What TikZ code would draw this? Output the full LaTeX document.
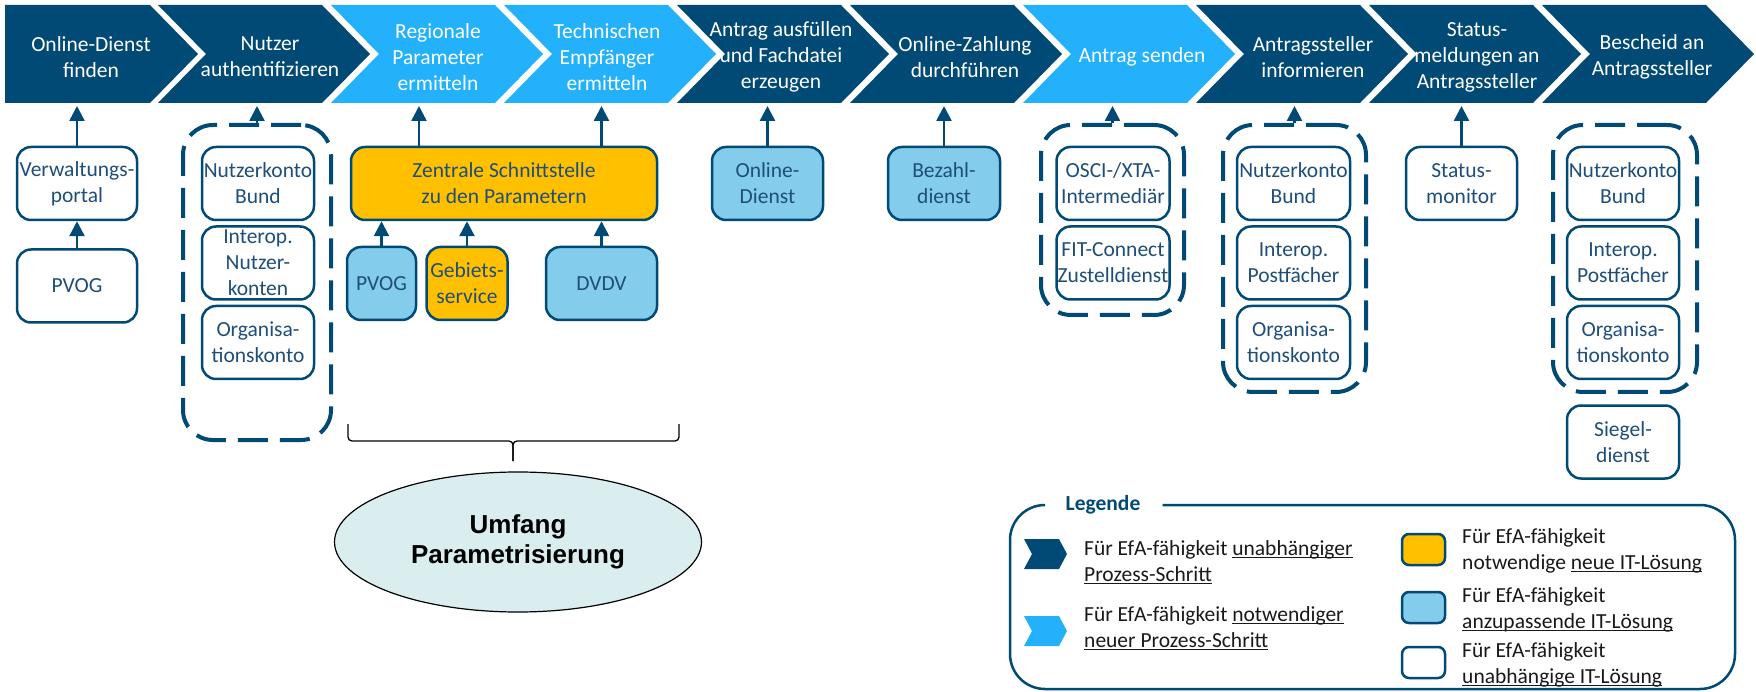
\documentclass[tikz,border=0pt]{standalone}
\usepackage{fontspec}
\setmainfont{Carlito}
\newfontfamily\arialfont{Liberation Sans}
\usepackage{xcolor}
\usepackage{tikz}
\usetikzlibrary{positioning,arrows.meta,shapes.geometric}
\definecolor{dblue}{HTML}{004A75}
\definecolor{hblue}{HTML}{23B1FC}
\definecolor{tblue}{HTML}{1F4E79}
\definecolor{gelb}{HTML}{FFC000}
\definecolor{lblue}{HTML}{83CCEB}
\definecolor{oval}{HTML}{DAEEF0}
\newcommand{\boxfont}{\fontsize{21.5}{26}\selectfont}
\newcommand{\unter}[1]{\underline{\smash{#1}}}
\newcommand{\prozess}[2]{\fill[#2] (#1,5) -- ++(164,0) -- ++(48,49) -- ++(-48,49) -- ++(-164,0) -- ++(48,-49) -- cycle;}
\pgfkeys{tikz/mybox/.style={draw=dblue,line width=2.5pt,rounded corners=14pt,fill=white,text=tblue,font=\boxfont,align=center,inner sep=0pt,minimum width=112pt,minimum height=73pt}}
\pgfkeys{tikz/mygroup/.style={draw=dblue,line width=4pt,rounded corners=30pt,dash pattern=on 30pt off 12pt}}
\pgfkeys{tikz/myarrow/.style={draw=dblue,line width=2.5pt,-{Triangle[width=15pt,length=15pt]}}}
\pgfkeys{tikz/mystep/.style={text=white,font=\boxfont,align=center,inner sep=0pt}}
\pgfkeys{tikz/mylegend/.style={font=\boxfont,align=left,anchor=west,inner sep=0pt,text=black!90}}

\begin{document}
\begin{tikzpicture}[x=1pt,y=-1pt,node distance=4pt]
\useasboundingbox (0,0) rectangle (1756,692);
% Prozesskette
\fill[dblue] (5,5) -- (150,5) -- (198,54) -- (150,103) -- (5,103) -- cycle;
\prozess{158}{dblue}
\prozess{331}{hblue}
\prozess{504}{hblue}
\prozess{677}{dblue}
\prozess{850}{dblue}
\prozess{1023}{hblue}
\prozess{1196}{dblue}
\prozess{1369}{dblue}
\prozess{1542}{dblue}
\coordinate (bar) at (0,106);
\node[mystep] (p1) at (91,57) {Online-Dienst\\finden};
\node[mystep] (p2) at (270,57) {Nutzer\\authentifizieren};
\node[mystep] (p3) at (438,57) {Regionale\\Parameter\\ermitteln};
\node[mystep] (p4) at (607,57) {Technischen\\Empfänger\\ermitteln};
\node[mystep] (p5) at (781,57) {Antrag ausfüllen\\und Fachdatei\\erzeugen};
\node[mystep] (p6) at (965,57) {Online-Zahlung\\durchführen};
\node[mystep] (p7) at (1142,57) {Antrag senden};
\node[mystep] (p8) at (1313,57) {Antragssteller\\informieren};
\node[mystep] (p9) at (1477,57) {Status-\\meldungen an\\Antragssteller};
\node[mystep] (p10) at (1652,57) {Bescheid an\\Antragssteller};

% IT-Loesungen
\node[mybox,minimum width=120pt] (vp) at (77,183.5) {Verwaltungs-\\portal};
\node[mybox,minimum width=120pt,below=27pt of vp] (pvog1) {PVOG};

\node[mygroup,minimum width=148pt,minimum height=315pt] (g1) at (257,282.5) {};
\node[mybox] (nk1) at (258,183.5) {Nutzerkonto\\Bund};
\node[mybox,below=of nk1] (io1) {Interop.\\Nutzer-\\konten};
\node[mybox,below=of io1] (org1) {Organisa-\\tionskonto};

\node[mybox,fill=gelb,minimum width=306pt] (zs) at (504,183.5) {Zentrale Schnittstelle\\zu den Parametern};
\node[mybox,fill=lblue,minimum width=69pt] (pvog2) at (381.5,283.5) {PVOG};
\node[mybox,fill=gelb,minimum width=81pt,right=8pt of pvog2] (gs) {Gebiets-\\service};
\node[mybox,fill=lblue,minimum width=111pt] (dvdv) at (601.5,283.5) {DVDV};

\node[mybox,fill=lblue,minimum width=111pt] (od) at (767.5,183.5) {Online-\\Dienst};
\node[mybox,fill=lblue] (bz) at (944,183.5) {Bezahl-\\dienst};

\node[mygroup,minimum width=143pt,minimum height=190pt] (g2) at (1112.5,220) {};
\node[mybox,minimum width=113pt] (osci) at (1113,183.5) {OSCI-/XTA-\\Intermediär};
\node[mybox,minimum width=113pt,below=of osci] (fit) {FIT-Connect\\Zustelldienst};

\node[mygroup,minimum width=143pt,minimum height=267pt] (g3) at (1294.5,258.5) {};
\node[mybox,minimum width=113pt] (nk2) at (1293.5,183.5) {Nutzerkonto\\Bund};
\node[mybox,minimum width=113pt,below=of nk2] (pf1) {Interop.\\Postfächer};
\node[mybox,minimum width=113pt,below=of pf1] (org2) {Organisa-\\tionskonto};

\node[mybox,minimum width=111pt] (sm) at (1461.5,183.5) {Status-\\monitor};

\node[mygroup,minimum width=144pt,minimum height=267pt] (g4) at (1625,258.5) {};
\node[mybox] (nk3) at (1623,183.5) {Nutzerkonto\\Bund};
\node[mybox,below=of nk3] (pf2) {Interop.\\Postfächer};
\node[mybox,below=of pf2] (org3) {Organisa-\\tionskonto};
\node[mybox,below=24pt of org3] (sd) {Siegel-\\dienst};

\draw[myarrow] (vp) -- (vp |- bar);
\draw[myarrow] (pvog1) -- (vp);
\draw[myarrow] (g1) -- (g1 |- bar);
\draw[myarrow] ([xshift=-85pt]zs.north) -- ([xshift=-85pt]zs.north |- bar);
\draw[myarrow] (dvdv |- zs.north) -- (dvdv |- bar);
\draw[myarrow] (pvog2) -- (pvog2 |- zs.south);
\draw[myarrow] (gs) -- (gs |- zs.south);
\draw[myarrow] (dvdv) -- (dvdv |- zs.south);
\draw[myarrow] (od) -- (od |- bar);
\draw[myarrow] (bz) -- (bz |- bar);
\draw[myarrow] (g2) -- (g2 |- bar);
\draw[myarrow] (g3) -- (g3 |- bar);
\draw[myarrow] (sm) -- (sm |- bar);

% Klammer und Umfang
\draw[line width=1.3pt,rounded corners=4pt] (348,424) -- (348,441) -- (513,441) -- (513,461);
\draw[line width=1.3pt,rounded corners=4pt] (679,424) -- (679,441) -- (513,441) -- (513,461);
\node[ellipse,draw=black,line width=1.2pt,fill=oval,minimum width=367pt,minimum height=140pt,inner sep=0pt,align=center,font=\arialfont\bfseries\fontsize{26}{30}\selectfont] (umf) at (518,542) {Umfang\\Parametrisierung};

% Legende
\node[font=\boxfont\bfseries,text=dblue,inner xsep=22pt,inner ysep=0pt] (leg) at (1103,505) {Legende};
\draw[dblue,line width=2.5pt,rounded corners=35pt] (leg.west) -- (1010,505) -- (1010,689) -- (1735,689) -- (1735,505) -- (leg.east);
\fill[dblue] (1024,539) -- (1059,539) -- (1067,554) -- (1059,569) -- (1024,569) -- (1032,554) -- cycle;
\fill[hblue] (1024,616) -- (1059,616) -- (1067,631) -- (1059,646) -- (1024,646) -- (1032,631) -- cycle;
\node[mybox,fill=gelb,minimum width=43pt,minimum height=31pt,rounded corners=7pt] (l1) at (1423.5,549.5) {};
\node[mybox,fill=lblue,minimum width=43pt,minimum height=31pt,rounded corners=7pt] (l2) at (1423.5,607.5) {};
\node[mybox,minimum width=43pt,minimum height=31pt,rounded corners=7pt] (l3) at (1423.5,662.5) {};
\node[mylegend] (t1) at (1084,562) {Für EfA-fähigkeit \unter{unabhängiger}\\\unter{Prozess-Schritt}};
\node[mylegend] (t2) at (1084,628) {Für EfA-fähigkeit \unter{notwendiger}\\\unter{neuer Prozess-Schritt}};
\node[mylegend] (t3) at (1462,551) {Für EfA-fähigkeit\\notwendige \unter{neue IT-Lösung}};
\node[mylegend] (t4) at (1462,609) {Für EfA-fähigkeit\\\unter{anzupassende IT-Lösung}};
\node[mylegend] (t5) at (1462,664) {Für EfA-fähigkeit\\\unter{unabhängige IT-Lösung}};
\end{tikzpicture}
\end{document}
